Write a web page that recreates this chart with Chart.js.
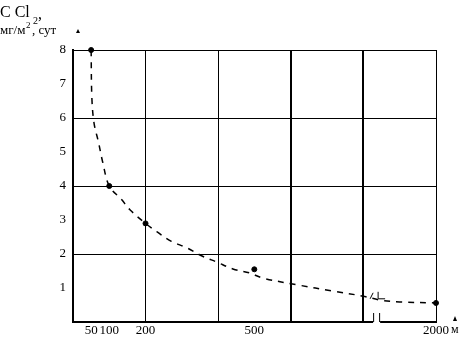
<!DOCTYPE html>
<html>
<head>
<meta charset="utf-8">
<script src="https://cdn.jsdelivr.net/npm/chart.js@4"></script>
<style>
    body { margin: 0; background: #fff; }
    canvas { display: block; }
</style>
</head>
<body>
<canvas id="chart" width="472" height="355"></canvas>
<script>
// measured points, distance in m, С Cl2 in мг/м² per сут
const distances     = [50, 100, 200, 500, 2000]
const concentration = [8.0, 4.0, 2.9, 1.55, 0.56]

// dashed curve
const curveDistances = [50, 52, 58, 70, 82, 100, 134, 157, 200, 232, 270, 314, 356, 397, 441, 488, 524, 620, 717, 800, 1100, 1400, 2000]
const curveValues    = [8.0, 6.6, 5.85, 5.3, 4.7, 4.0, 3.6, 3.3, 2.9, 2.65, 2.38, 2.18, 1.94, 1.76, 1.56, 1.44, 1.29, 1.09, 0.91, 0.76, 0.64, 0.59, 0.56]

const gridDistances  = [200, 400, 600, 800, 2000]
const labelDistances = [50, 100, 200, 500, 2000]
const thickDistances = [600, 800]
const yTicks         = [1, 2, 3, 4, 5, 6, 7, 8]

// the x axis is broken after 800 m
const BREAK_AT    = 800
const BREAK_SCALE = 0.1675

function axisPos(d) {
    return d <= BREAK_AT ? d : BREAK_AT + (d - BREAK_AT) * BREAK_SCALE
}

let allTicks = [...new Set([...labelDistances, ...gridDistances])].sort((a, b) => a - b)

const serif = '"Liberation Serif", "DejaVu Serif", serif'

let decorations = {
    id: 'decorations',
    afterDraw(chart) {
        let c  = chart.ctx
        let x  = chart.scales.x
        let y  = chart.scales.y
        let bx = x.getPixelForValue(axisPos(BREAK_AT)) + 10
        let by = y.getPixelForValue(0)

        c.save()
        c.textAlign = 'left'
        c.textBaseline = 'alphabetic'
        // gap in the x axis
        c.fillStyle = '#fff'
        c.fillRect(bx, by - 2, 7, 4)
        c.strokeStyle = '#000'
        c.lineWidth = 1
        c.beginPath()
        c.moveTo(bx + 0.5, by - 9)
        c.lineTo(bx + 0.5, by)
        c.moveTo(bx + 6.5, by - 9)
        c.lineTo(bx + 6.5, by)
        // break marks on the curve
        let cy = y.getPixelForValue(0.8)
        c.moveTo(bx - 3, cy + 4)
        c.lineTo(bx, cy - 2)
        c.moveTo(bx + 5, cy - 3)
        c.lineTo(bx + 5, cy + 4)
        c.lineTo(bx + 12, cy + 4)
        c.stroke()

        c.fillStyle = '#000'
        // axis titles
        c.font = '16px ' + serif
        c.fillText('С Cl', 0, 17)
        c.font = '10px ' + serif
        c.fillText('2', 33, 24)
        c.font = '16px ' + serif
        c.fillText(',', 38, 19)
        c.font = '13px ' + serif
        c.fillText('мг/м', 0, 34)
        c.font = '9px ' + serif
        c.fillText('2', 26, 28)
        c.font = '13px ' + serif
        c.fillText(', сут', 32, 34)
        c.beginPath()
        c.moveTo(76, 33)
        c.lineTo(78, 29)
        c.lineTo(80, 33)
        c.fill()

        c.font = '12px ' + serif
        c.fillText('м', 451, 333)
        c.beginPath()
        c.moveTo(453, 321)
        c.lineTo(455, 316)
        c.lineTo(457, 321)
        c.fill()

        c.font = '13px ' + serif
        c.fillText('Рис. 1. Ч', 34, 364)
        c.restore()
    }
}

new Chart(document.getElementById('chart'), {
    type: 'line',
    data: {
        datasets: [
            {
                data: curveDistances.map((d, i) => ({ x: axisPos(d), y: curveValues[i] })),
                borderColor: '#000',
                borderWidth: 1.5,
                borderDash: [6, 6],
                tension: 0.35,
                pointRadius: 0
            },
            {
                data: distances.map((d, i) => ({ x: axisPos(d), y: concentration[i] })),
                showLine: false,
                clip: false,
                pointRadius: 2.5,
                pointBackgroundColor: '#000',
                pointBorderColor: '#000'
            }
        ]
    },
    options: {
        responsive: false,
        animation: false,
        layout: { padding: { top: 50, right: 36, left: 0, bottom: 0 } },
        plugins: { legend: { display: false }, tooltip: { enabled: false } },
        scales: {
            x: {
                type: 'linear',
                min: 0,
                max: axisPos(2000),
                afterBuildTicks: (scale) => {
                    scale.ticks = allTicks.map((d) => ({ value: axisPos(d) }))
                },
                afterFit: (scale) => { scale.height = 33 },
                border: { color: '#000', width: 2 },
                grid: {
                    drawTicks: false,
                    color: (ctx) => gridDistances.includes(allTicks[ctx.index]) ? '#000' : 'rgba(0,0,0,0)',
                    lineWidth: (ctx) => thickDistances.includes(allTicks[ctx.index]) ? 2 : 1
                },
                ticks: {
                    autoSkip: false,
                    maxRotation: 0,
                    padding: 1,
                    color: '#000',
                    font: { family: serif, size: 13 },
                    callback: (value, index) => labelDistances.includes(allTicks[index]) ? String(allTicks[index]) : ''
                }
            },
            y: {
                min: 0,
                max: 8,
                afterBuildTicks: (scale) => {
                    scale.ticks = yTicks.map((v) => ({ value: v }))
                },
                afterFit: (scale) => { scale.width = 73 },
                border: { color: '#000', width: 2 },
                grid: {
                    drawTicks: false,
                    color: (ctx) => ctx.tick && ctx.tick.value % 2 === 0 ? '#000' : 'rgba(0,0,0,0)',
                    lineWidth: 1
                },
                ticks: {
                    padding: 7,
                    color: '#000',
                    font: { family: serif, size: 13 }
                }
            }
        }
    },
    plugins: [decorations]
})
</script>
</body>
</html>
